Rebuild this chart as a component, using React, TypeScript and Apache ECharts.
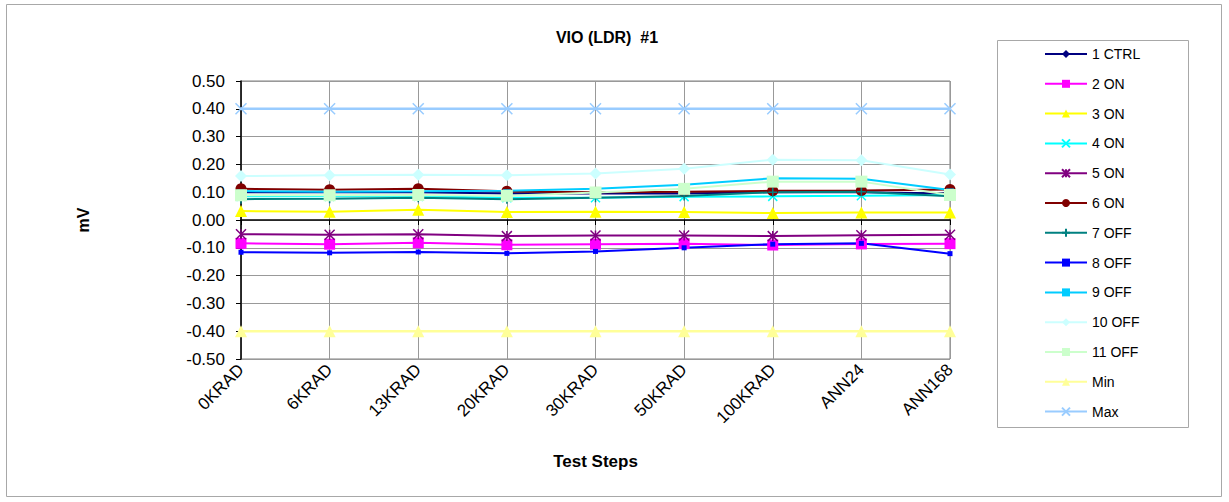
import React, { useEffect, useRef } from "react";
import * as echarts from "echarts";

const categories = ["0KRAD", "6KRAD", "13KRAD", "20KRAD", "30KRAD", "50KRAD", "100KRAD", "ANN24", "ANN168"];
const ctrl1 = [0.10, 0.10, 0.10, 0.095, 0.095, 0.095, 0.10, 0.10, 0.095];
const on2 = [-0.084, -0.087, -0.082, -0.089, -0.087, -0.085, -0.090, -0.086, -0.085];
const on3 = [0.032, 0.030, 0.037, 0.029, 0.030, 0.029, 0.025, 0.027, 0.027];
const on4 = [0.085, 0.085, 0.085, 0.080, 0.080, 0.084, 0.085, 0.087, 0.090];
const on5 = [-0.051, -0.053, -0.051, -0.058, -0.056, -0.056, -0.058, -0.055, -0.053];
const on6 = [0.112, 0.109, 0.112, 0.103, 0.100, 0.102, 0.105, 0.106, 0.110];
const off7 = [0.075, 0.076, 0.080, 0.075, 0.080, 0.086, 0.100, 0.102, 0.085];
const off8 = [-0.116, -0.118, -0.115, -0.120, -0.113, -0.100, -0.087, -0.084, -0.121];
const off9 = [0.104, 0.102, 0.103, 0.105, 0.112, 0.127, 0.150, 0.148, 0.108];
const off10 = [0.158, 0.161, 0.163, 0.161, 0.167, 0.184, 0.217, 0.215, 0.164];
const off11 = [0.089, 0.089, 0.090, 0.087, 0.099, 0.112, 0.138, 0.138, 0.090];
const minVals = [-0.40, -0.40, -0.40, -0.40, -0.40, -0.40, -0.40, -0.40, -0.40];
const maxVals = [0.40, 0.40, 0.40, 0.40, 0.40, 0.40, 0.40, 0.40, 0.40];
const yTicks = { min: -0.5, max: 0.5, interval: 0.1 };

const FONT = "'Liberation Sans', Arial, sans-serif";
const X_SYM = "path://M0,0L10,10M10,0L0,10";
const AST_SYM = "path://M0,0L10,10M10,0L0,10M5,0L5,10";
const PLUS_SYM = "path://M5,0L5,10M0,5L10,5";

type Def = { name: string; data: number[]; color: string; symbol: string; size: any; stroke?: boolean; width?: number };

const defs: Def[] = [
  { name: "1 CTRL", data: ctrl1, color: "#000080", symbol: "diamond", size: 7 },
  { name: "2 ON", data: on2, color: "#FF00FF", symbol: "rect", size: 11 },
  { name: "3 ON", data: on3, color: "#FFFF00", symbol: "triangle", size: 12 },
  { name: "4 ON", data: on4, color: "#00FFFF", symbol: X_SYM, size: 9, stroke: true },
  { name: "5 ON", data: on5, color: "#800080", symbol: AST_SYM, size: 10, stroke: true },
  { name: "6 ON", data: on6, color: "#800000", symbol: "circle", size: 11 },
  { name: "7 OFF", data: off7, color: "#008080", symbol: PLUS_SYM, size: 9, stroke: true },
  { name: "8 OFF", data: off8, color: "#0000FF", symbol: "rect", size: 5 },
  { name: "9 OFF", data: off9, color: "#00CCFF", symbol: "rect", size: [8, 3] },
  { name: "10 OFF", data: off10, color: "#CCFFFF", symbol: "diamond", size: 12 },
  { name: "11 OFF", data: off11, color: "#CCFFCC", symbol: "rect", size: 12 },
  { name: "Min", data: minVals, color: "#FFFF99", symbol: "triangle", size: 12, width: 2.5 },
  { name: "Max", data: maxVals, color: "#99CCFF", symbol: X_SYM, size: 11, stroke: true, width: 2.5 },
];

export default function App() {
  const ref = useRef<HTMLDivElement>(null);
  useEffect(() => {
    if (!ref.current) return;
    const chart = echarts.init(ref.current, null, { renderer: "svg" });
    const series = defs.map((d) => ({
      name: d.name,
      type: "line",
      data: d.data,
      symbol: d.symbol,
      symbolSize: d.size,
      showAllSymbol: true,
      lineStyle: { color: d.color, width: d.width ?? 2 },
      itemStyle: d.stroke
        ? { color: d.color, borderColor: d.color, borderWidth: 1.5 }
        : { color: d.color, borderWidth: 0 },
      emphasis: { disabled: true },
    }));
    chart.setOption({
      animation: false,
      backgroundColor: "#ffffff",
      textStyle: { fontFamily: FONT },
      grid: {
        left: 241,
        top: 81,
        right: 1229 - 950,
        bottom: 502 - 359,
        show: true,
        borderColor: "#808080",
        borderWidth: 1,
        backgroundColor: "transparent",
      },
      legend: {
        orient: "vertical",
        left: 1039,
        top: 42,
        itemWidth: 42,
        itemHeight: 10,
        itemGap: 15.8,
        textStyle: { fontSize: 14, color: "#000", fontFamily: FONT },
        data: defs.map((d) => d.name),
      },
      xAxis: {
        type: "category",
        data: categories,
        boundaryGap: false,
        axisLine: { lineStyle: { color: "#000", width: 1.5 } },
        axisTick: { show: true, alignWithLabel: true, length: 5, lineStyle: { color: "#000" } },
        axisLabel: { rotate: 45, fontSize: 17, color: "#000", margin: 8, fontFamily: FONT },
        splitLine: { show: true, lineStyle: { color: "#999999", width: 1 } },
        name: "Test Steps",
        nameLocation: "middle",
        nameGap: 94,
        nameTextStyle: { fontSize: 17, fontWeight: "bold", color: "#000", fontFamily: FONT },
      },
      yAxis: {
        type: "value",
        min: yTicks.min,
        max: yTicks.max,
        interval: yTicks.interval,
        axisLine: { show: true, lineStyle: { color: "#000", width: 1.5 } },
        axisTick: { show: true, length: 5, lineStyle: { color: "#000" } },
        axisLabel: {
          fontSize: 17,
          color: "#000",
          margin: 16,
          fontFamily: FONT,
          formatter: (v: number) => v.toFixed(2),
        },
        splitLine: { show: true, lineStyle: { color: "#999999", width: 1 } },
        name: "mV",
        nameLocation: "middle",
        nameGap: 150,
        nameRotate: 90,
        nameTextStyle: { fontSize: 16, fontWeight: "bold", color: "#000", fontFamily: FONT },
      },
      graphic: [
        {
          type: "rect",
          shape: { x: 6.5, y: 4.5, width: 1215, height: 492 },
          style: { fill: "none", stroke: "#a8a8a8", lineWidth: 1 },
          silent: true,
          z: -10,
        },
        {
          type: "rect",
          shape: { x: 997.5, y: 40.5, width: 191, height: 387 },
          style: { fill: "none", stroke: "#a8a8a8", lineWidth: 1 },
          silent: true,
        },
        {
          type: "text",
          x: 607,
          y: 37,
          style: {
            text: "VIO (LDR)  #1",
            fontSize: 16,
            fontWeight: "bold",
            fill: "#000",
            fontFamily: FONT,
            textAlign: "center",
            textVerticalAlign: "middle",
          },
        },
      ],
      series,
    });
    return () => chart.dispose();
  }, []);
  return (
    <div
      ref={ref}
      style={{ position: "absolute", left: 0, top: 0, width: 1229, height: 502 }}
    />
  );
}
